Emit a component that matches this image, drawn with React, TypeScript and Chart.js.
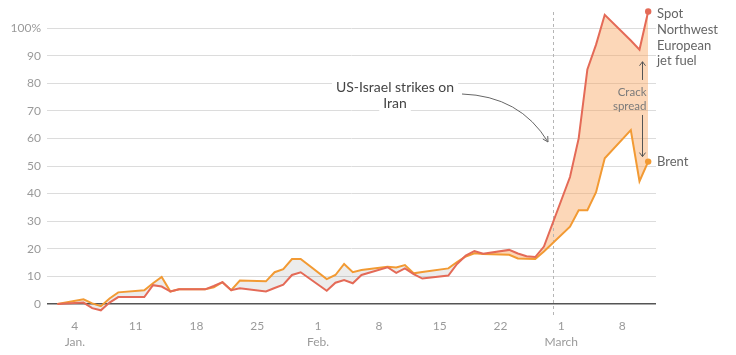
import React, { useEffect, useRef } from "react";
import { Chart, registerables } from "chart.js";

Chart.register(...registerables);

// Day of year 2026 (Jan 1 = 1)
const days = [2, 5, 6, 7, 8, 9, 12, 13, 14, 15, 16, 19, 20, 21, 22, 23, 26, 27, 28, 29, 30, 33, 34, 35, 36, 37, 40, 41, 42, 43, 44, 47, 48, 49, 50, 51, 54, 55, 56, 57, 58, 61, 62, 63, 64, 65, 68, 69, 70];

const jetFuel = [0, 0.5, -1.5, -2.3, 0.5, 2.5, 2.5, 6.8, 6.3, 4.5, 5.3, 5.3, 6.5, 7.9, 5, 5.7, 4.5, 5.8, 7, 10.5, 11.5, 4.8, 7.7, 8.7, 7.5, 10.5, 13.3, 11.3, 12.9, 10.8, 9.2, 10.3, 14.5, 17.5, 19.2, 18.2, 19.6, 18.3, 17.3, 17, 20.8, 46, 60, 85, 94, 104.8, 95.5, 92.2, 106];

const brent = [0, 1.7, 0.2, -0.8, 2, 4.2, 5, 7.5, 9.8, 4.5, 5.3, 5.3, 6, 7.9, 5, 8.5, 8.2, 11.5, 12.6, 16.3, 16.3, 9, 10.5, 14.5, 11.5, 12.3, 13.5, 13.2, 14.1, 11.1, 11.6, 12.9, 15.2, 17.2, 18.4, 18.1, 17.8, 16.5, 16.4, 16.3, 19, 28, 34, 34, 40.5, 52.8, 63, 44.5, 51.6];

const yTickValues = [0, 10, 20, 30, 40, 50, 60, 70, 80, 90, 100];
const xTickDays = [4, 11, 18, 25, 32, 39, 46, 53, 60, 67];
const xTickLabels = ["4", "11", "18", "25", "1", "8", "15", "22", "1", "8"];
const monthLabels = ["Jan.", "", "", "", "Feb.", "", "", "", "March", ""];

const strikeDay = 59; // Feb 28
const jetLabel = ["Spot", "Northwest", "European", "jet fuel"];
const brentLabel = "Brent";
const strikeLabel = ["US-Israel strikes on", "Iran"];
const crackLabel = ["Crack", "spread"];

const RED = "#e46a57";
const ORANGE = "#f29a33";
const PEACH = "rgba(247,160,85,0.42)";
const GRAYFILL = "rgba(0,0,0,0.075)";
const FONT = "Lato";

const annotations = {
  id: "annotations",
  beforeDatasetsDraw(chart: any) {
    const { ctx, chartArea } = chart;
    const xs = chart.scales.x;
    const x = Math.round(xs.getPixelForValue(strikeDay)) + 0.5;
    ctx.save();
    ctx.strokeStyle = "#b5b5b5";
    ctx.lineWidth = 1;
    ctx.setLineDash([3, 3]);
    ctx.beginPath();
    ctx.moveTo(x, chartArea.top + 6);
    ctx.lineTo(x, chartArea.bottom + 3);
    ctx.stroke();
    ctx.restore();
  },
  afterDatasetsDraw(chart: any) {
    const { ctx, chartArea } = chart;
    const xs = chart.scales.x;
    const ys = chart.scales.y;
    const last = days.length - 1;
    ctx.save();

    // right labels
    ctx.font = `13px ${FONT}`;
    ctx.fillStyle = "#666666";
    ctx.textAlign = "left";
    ctx.textBaseline = "middle";
    const lx = chartArea.right + 1;
    const jy = ys.getPixelForValue(jetFuel[last]) + 2.5;
    jetLabel.forEach((t, i) => ctx.fillText(t, lx, jy + i * 15.7));
    ctx.fillText(brentLabel, lx, ys.getPixelForValue(brent[last]));

    // crack spread
    const ax = Math.round(xs.getPixelForValue(days[last])) - 6 + 0.5;
    ctx.font = `11.5px ${FONT}`;
    ctx.fillStyle = "#7a7a7a";
    ctx.textAlign = "right";
    ctx.fillText(crackLabel[0], ax + 4, ys.getPixelForValue(76.9));
    ctx.fillText(crackLabel[1], ax + 4, ys.getPixelForValue(71.7));
    ctx.strokeStyle = "#555";
    ctx.lineWidth = 1;
    const upTop = ys.getPixelForValue(87.8);
    const upBot = ys.getPixelForValue(81.2);
    const dnTop = ys.getPixelForValue(68.5);
    const dnBot = ys.getPixelForValue(53.4);
    ctx.beginPath();
    ctx.moveTo(ax, upBot);
    ctx.lineTo(ax, upTop);
    ctx.moveTo(ax - 3, upTop + 4);
    ctx.lineTo(ax, upTop);
    ctx.lineTo(ax + 3, upTop + 4);
    ctx.moveTo(ax, dnTop);
    ctx.lineTo(ax, dnBot);
    ctx.moveTo(ax - 3, dnBot - 4);
    ctx.lineTo(ax, dnBot);
    ctx.lineTo(ax + 3, dnBot - 4);
    ctx.stroke();

    // strike annotation text
    ctx.font = `14px ${FONT}`;
    ctx.textAlign = "center";
    const tx = xs.getPixelForValue(40.86);
    const ty = [ys.getPixelForValue(78.6), ys.getPixelForValue(72.5)];
    strikeLabel.forEach((t, i) => {
      const w = ctx.measureText(t).width;
      ctx.fillStyle = "#ffffff";
      ctx.fillRect(tx - w / 2 - 4, ty[i] - 8, w + 8, 16);
      ctx.fillStyle = "#444";
      ctx.fillText(t, tx, ty[i]);
    });

    // curved arrow
    const sx = xs.getPixelForValue(48.57), sy = ys.getPixelForValue(76.1);
    const cx = xs.getPixelForValue(55.24), cy = ys.getPixelForValue(75.4);
    const ex = xs.getPixelForValue(58.47), ey = ys.getPixelForValue(58.7);
    ctx.strokeStyle = "#666";
    ctx.lineWidth = 1;
    ctx.beginPath();
    ctx.moveTo(sx, sy);
    ctx.quadraticCurveTo(cx, cy, ex, ey);
    ctx.stroke();
    const ang = Math.atan2(ey - cy, ex - cx);
    const hl = 6;
    ctx.beginPath();
    ctx.moveTo(ex - hl * Math.cos(ang - 0.5), ey - hl * Math.sin(ang - 0.5));
    ctx.lineTo(ex, ey);
    ctx.lineTo(ex - hl * Math.cos(ang + 0.5), ey - hl * Math.sin(ang + 0.5));
    ctx.stroke();

    ctx.restore();
  },
};

export default function App() {
  const ref = useRef<HTMLCanvasElement | null>(null);
  useEffect(() => {
    document.body.style.margin = "0";
    const canvas = ref.current;
    if (!canvas) return;
    const last = days.length - 1;
    const chart = new Chart(canvas, {
      type: "line",
      data: {
        datasets: [
          {
            label: "Spot Northwest European jet fuel",
            data: days.map((d, i) => ({ x: d, y: jetFuel[i] })),
            borderColor: RED,
            backgroundColor: RED,
            borderWidth: 2,
            pointRadius: (c: any) => (c.dataIndex === last ? 3.2 : 0),
            pointBackgroundColor: RED,
            pointBorderWidth: 0,
            fill: { target: 1, above: PEACH, below: GRAYFILL },
            tension: 0,
          },
          {
            label: "Brent",
            data: days.map((d, i) => ({ x: d, y: brent[i] })),
            borderColor: ORANGE,
            backgroundColor: ORANGE,
            borderWidth: 2,
            pointRadius: (c: any) => (c.dataIndex === last ? 3.2 : 0),
            pointBackgroundColor: ORANGE,
            pointBorderWidth: 0,
            fill: false,
            tension: 0,
          },
        ],
      },
      options: {
        animation: false,
        responsive: false,
        devicePixelRatio: 1,
        layout: { padding: { top: 6, right: 80, left: 0, bottom: 0 } },
        plugins: {
          legend: { display: false },
          tooltip: { enabled: false },
          filler: { drawTime: "beforeDatasetsDraw" },
        } as any,
        scales: {
          x: {
            type: "linear",
            min: 0.8,
            max: 70.9,
            afterBuildTicks: (s: any) => {
              s.ticks = xTickDays.map((v) => ({ value: v }));
            },
            afterFit: (s: any) => {
              s.height = 40;
              s.paddingLeft = 0;
              s.paddingRight = 0;
            },
            grid: { display: false, drawTicks: false },
            border: { display: false },
            ticks: {
              padding: 3,
              color: "#9a9a9a",
              font: { family: FONT, size: 12, lineHeight: 1.35 },
              maxRotation: 0,
              autoSkip: false,
              callback: (v: any) => {
                const i = xTickDays.indexOf(v);
                if (i < 0) return "";
                return monthLabels[i] ? [xTickLabels[i], monthLabels[i]] : xTickLabels[i];
              },
            },
          },
          y: {
            min: -4,
            max: 108,
            afterBuildTicks: (s: any) => {
              s.ticks = yTickValues.map((v) => ({ value: v }));
            },
            afterFit: (s: any) => {
              s.width = 47;
              s.paddingTop = 0;
              s.paddingBottom = 0;
            },
            grid: {
              drawTicks: false,
              color: (c: any) => (c.tick && c.tick.value === 0 ? "#555555" : "#dcdcdc"),
              lineWidth: (c: any) => (c.tick && c.tick.value === 0 ? 1.5 : 1),
            },
            border: { display: false },
            ticks: {
              padding: 6,
              color: "#9a9a9a",
              font: { family: FONT, size: 12 },
              callback: (v: any) => (v === 100 ? "100%" : String(v)),
            },
          },
        },
      } as any,
      plugins: [annotations],
    });
    return () => chart.destroy();
  }, []);
  return (
    <div style={{ width: 736, height: 355 }}>
      <canvas ref={ref} width={736} height={355} />
    </div>
  );
}
